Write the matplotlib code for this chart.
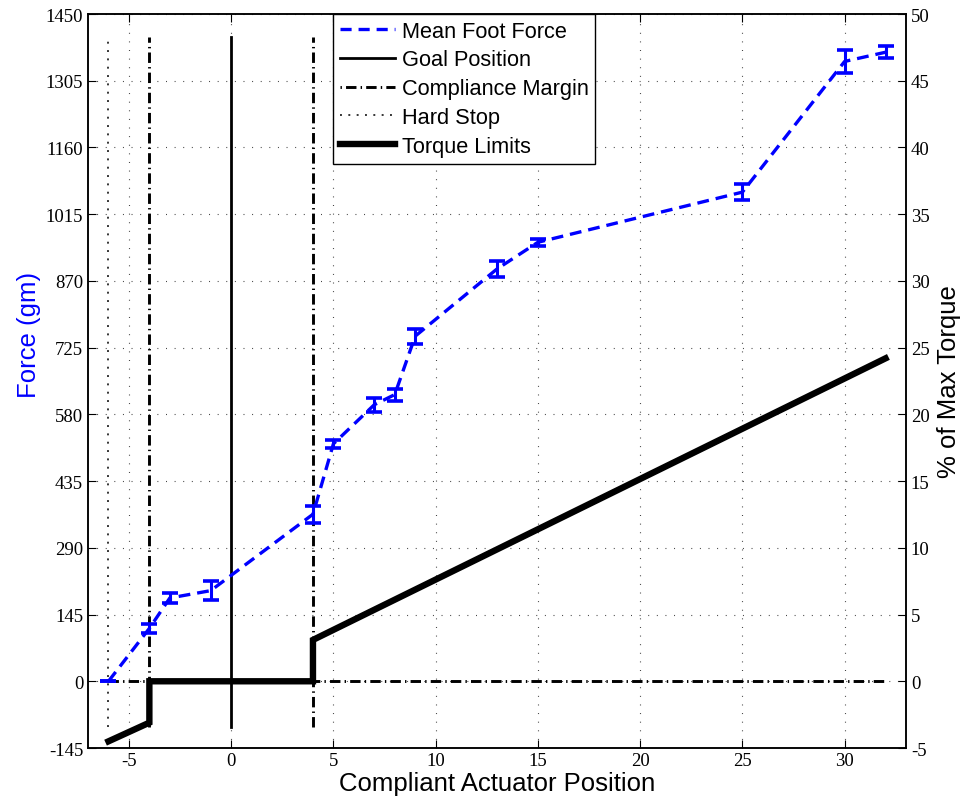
import numpy as np
import matplotlib
matplotlib.use("Agg")
import matplotlib.pyplot as plt
from matplotlib.lines import Line2D

plt.rcParams['lines.scale_dashes'] = False
plt.rcParams['axes.unicode_minus'] = False

# foot force measurements (gm) vs actuator position
pos = [-6, -4, -3, -1, 4, 5, 7, 8, 9, 13, 15, 25, 30, 32]
force = [0, 115, 181, 197, 363, 516, 601, 623, 750, 896, 954, 1063, 1347, 1367]
force_err = [0, 9, 11, 20, 18, 9, 15, 13, 16, 18, 8, 18, 25, 13]

# torque limit curve (% of max torque)
torque_x = [-6, -4, -4, 4, 4, 32]
torque_y = [-4.5, -3.1, 0, 0, 3.1, 24.2]

goal_x = 0
margin_x = [-4, 4]
hard_x = -6
vline_span = [-100, 1400]
zero_span = [-6, 32]

xticks = [-5, 0, 5, 10, 15, 20, 25, 30]
left_ticks = np.arange(-145, 1451, 145)
right_ticks = np.arange(-5, 51, 5)

serif = 'Liberation Serif'
sans = 'Liberation Sans'
dashdot = (0, (7.5, 3, 1, 3))

fig = plt.figure(figsize=(9.63, 8.04), dpi=100)
ax = fig.add_axes([0.0914, 0.0684, 0.8494, 0.9129])
ax2 = ax.twinx()

ax.set_xlim(-7, 33)
ax.set_ylim(-145, 1450)
ax2.set_ylim(-5, 50)

ax.grid(True, color='0.25', linestyle=(0, (0.7, 5.5)), linewidth=0.8)
ax.set_axisbelow(True)

# reference lines
ax.plot([hard_x, hard_x], vline_span, color='k', lw=1.1, linestyle=(0, (1.4, 4.6)))
for mx in margin_x:
    ax.plot([mx, mx], vline_span, color='k', lw=2.1, linestyle=dashdot)
ax.plot(zero_span, [0, 0], color='k', lw=2.1, linestyle=dashdot)
ax.plot([goal_x, goal_x], vline_span, color='k', lw=2.0)

# mean foot force with error bars
ax.errorbar(pos, force, yerr=force_err, fmt='none', ecolor='#0000ff',
            elinewidth=2.2, capsize=5.5, capthick=2.6)
ax.plot(pos, force, color='#0000ff', lw=2.4, linestyle=(0, (8.5, 5)))

# torque limits on the right axis
ax2.plot(torque_x, torque_y, color='k', lw=4.6, solid_joinstyle='miter')

ax.set_xticks(xticks)
ax.set_yticks(left_ticks)
ax2.set_yticks(right_ticks)
for a in (ax, ax2):
    a.tick_params(direction='in', length=6, width=0.8, labelsize=13.5)
    for lab in a.get_xticklabels() + a.get_yticklabels():
        lab.set_family(serif)
    for sp in a.spines.values():
        sp.set_linewidth(1.1)
ax.tick_params(top=True, right=False)
ax.tick_params(axis='x', pad=3)

ax.set_xlabel('Compliant Actuator Position', fontsize=18.5, family=sans, labelpad=1)
ax.set_ylabel('Force (gm)', fontsize=18.5, family=sans, color='#0000ff')
ax.yaxis.set_label_coords(-0.057, 0.564)
ax2.set_ylabel('% of Max Torque', fontsize=18.5, family=sans, labelpad=5)

handles = [
    Line2D([], [], color='#0000ff', lw=2.4, linestyle=(0, (8, 5))),
    Line2D([], [], color='k', lw=2.0),
    Line2D([], [], color='k', lw=2.1, linestyle=(0, (1, 3, 7.5, 3))),
    Line2D([], [], color='k', lw=1.1, linestyle=(0, (1.4, 4.6))),
    Line2D([], [], color='k', lw=4.6),
]
labels = ['Mean Foot Force', 'Goal Position', 'Compliance Margin',
          'Hard Stop', 'Torque Limits']
leg = ax2.legend(handles, labels, loc='upper left', bbox_to_anchor=(0.2995, 1.0),
                 prop={'family': sans, 'size': 15.7}, frameon=True, fancybox=False,
                 framealpha=1, edgecolor='k', borderaxespad=0, borderpad=0.3,
                 handlelength=2.55, handletextpad=0.3, labelspacing=0.36)
leg.get_frame().set_linewidth(1.0)

fig.savefig('out.png', dpi=100)
